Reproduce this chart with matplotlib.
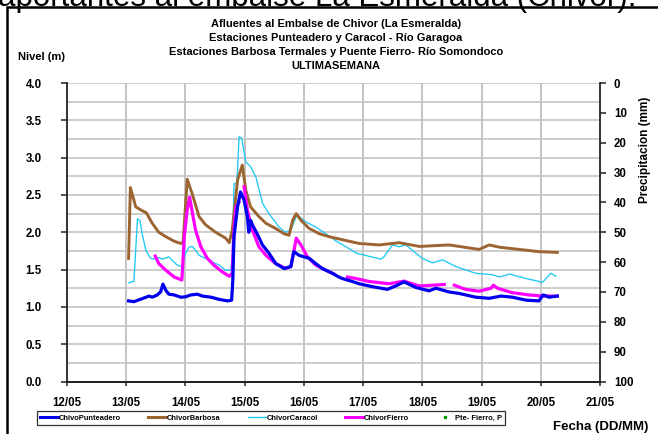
import numpy as np
import matplotlib
matplotlib.use("Agg")
import matplotlib.pyplot as plt
from matplotlib.patches import Rectangle
from matplotlib.lines import Line2D

plt.rcParams['font.family'] = ['Liberation Sans', 'DejaVu Sans']

# ---- data (time in days of May, levels in metres) ----
t_punteadero = [13.04, 13.13, 13.27, 13.385, 13.44, 13.525, 13.58, 13.62, 13.67, 13.72,
                13.81, 13.92, 14.005, 14.09, 14.20, 14.285, 14.43, 14.57, 14.71, 14.78,
                14.80, 14.82, 14.88, 14.93, 14.99, 15.045, 15.07, 15.10, 15.13, 15.21,
                15.30, 15.41, 15.525, 15.665, 15.78, 15.83, 15.92, 16.09, 16.20, 16.31,
                16.48, 16.59, 16.65, 16.82, 16.93, 17.16, 17.41, 17.55, 17.69, 17.89,
                18.115, 18.23, 18.45, 18.62, 18.90, 19.13, 19.33, 19.52, 19.75, 19.97,
                20.04, 20.14, 20.28]
v_punteadero = [1.08, 1.07, 1.11, 1.145, 1.13, 1.16, 1.20, 1.305, 1.22, 1.17,
                1.16, 1.13, 1.135, 1.16, 1.17, 1.145, 1.13, 1.10, 1.08, 1.09,
                1.36, 1.94, 2.34, 2.54, 2.43, 2.21, 2.00, 2.16, 2.10, 1.98,
                1.83, 1.72, 1.58, 1.515, 1.54, 1.74, 1.69, 1.65, 1.58, 1.515,
                1.45, 1.40, 1.38, 1.34, 1.31, 1.27, 1.235, 1.28, 1.335, 1.26,
                1.215, 1.25, 1.20, 1.18, 1.13, 1.115, 1.145, 1.13, 1.09, 1.08,
                1.16, 1.13, 1.145]

t_barbosa = [13.04, 13.07, 13.16, 13.245, 13.34, 13.44, 13.55, 13.67, 13.81, 13.92,
             13.96, 14.03, 14.12, 14.23, 14.34, 14.51, 14.68, 14.74, 14.79, 14.88,
             14.96, 15.02, 15.10, 15.24, 15.36, 15.525, 15.665, 15.75, 15.81, 15.87,
             15.95, 16.09, 16.26, 16.43, 16.65, 16.93, 17.27, 17.61, 17.95, 18.45,
             18.96, 19.13, 19.30, 19.635, 19.97, 20.28]
v_barbosa = [1.65, 2.60, 2.34, 2.30, 2.26, 2.12, 2.00, 1.94, 1.88, 1.85,
             1.86, 2.71, 2.50, 2.21, 2.10, 2.00, 1.92, 1.86, 2.03, 2.70,
             2.90, 2.56, 2.34, 2.21, 2.12, 2.05, 1.98, 1.96, 2.16, 2.25,
             2.16, 2.05, 1.98, 1.94, 1.90, 1.85, 1.83, 1.86, 1.81, 1.83,
             1.77, 1.83, 1.80, 1.77, 1.74, 1.73]

t_caracol = [13.04, 13.10, 13.13, 13.19, 13.23, 13.27, 13.33, 13.41, 13.50, 13.55,
             13.61, 13.72, 13.78, 13.86, 13.94, 14.005, 14.06, 14.12, 14.17, 14.23,
             14.34, 14.455, 14.57, 14.68, 14.765, 14.79, 14.82, 14.86, 14.88, 14.905,
             14.95, 15.02, 15.10, 15.19, 15.30, 15.41, 15.58, 15.69, 15.78, 15.87,
             15.92, 16.03, 16.20, 16.37, 16.54, 16.71, 16.90, 17.30, 17.35, 17.495,
             17.61, 17.72, 17.83, 18.00, 18.17, 18.34, 18.57, 18.90, 19.19, 19.30,
             19.47, 19.75, 20.03, 20.17, 20.255]
v_caracol = [1.32, 1.34, 1.34, 2.18, 2.16, 1.98, 1.76, 1.65, 1.64, 1.66,
             1.64, 1.67, 1.62, 1.56, 1.54, 1.72, 1.80, 1.81, 1.76, 1.69,
             1.65, 1.60, 1.56, 1.49, 1.49, 1.67, 2.65, 2.65, 2.83, 3.28,
             3.26, 2.94, 2.88, 2.74, 2.39, 2.25, 2.07, 2.00, 2.03, 2.21,
             2.21, 2.14, 2.07, 1.98, 1.885, 1.805, 1.716, 1.64, 1.67, 1.83,
             1.805, 1.83, 1.76, 1.65, 1.59, 1.63, 1.54, 1.45, 1.43, 1.40,
             1.44, 1.38, 1.33, 1.45, 1.41]

t_fierro = [13.49, 13.55, 13.67, 13.81, 13.94, 13.98, 14.03, 14.07, 14.12, 14.17,
            14.26, 14.37, 14.48, 14.62, 14.74, 14.79, 14.82, 14.85, 14.905, 14.95,
            14.99, 15.045, 15.13, 15.24, 15.36, 15.525, 15.69, 15.78, 15.83, 15.87,
            15.95, 16.06, 16.20, 16.37, 16.51, 16.62, 16.735, 16.88, 17.10, 17.44,
            17.69, 17.95, 18.17, 18.37, 18.45, 18.54, 18.73, 18.96, 19.16, 19.20,
            19.27, 19.52, 19.80, 20.03, 20.28]
v_fierro = [1.68, 1.58, 1.49, 1.40, 1.36, 1.94, 2.30, 2.47, 2.25, 2.03,
            1.805, 1.65, 1.56, 1.47, 1.41, 1.45, 2.03, 2.34, 2.40, np.nan,
            2.61, 2.30, 2.03, 1.805, 1.69, 1.58, 1.515, 1.54, 1.74, 1.92,
            1.83, 1.67, 1.56, 1.49, 1.44, np.nan, 1.40, 1.38, 1.34, 1.31,
            1.345, 1.28, 1.29, 1.30, np.nan, 1.29, 1.235, 1.21, 1.25, 1.29,
            1.25, 1.19, 1.16, 1.145, 1.145]

# precipitation at Puente Fierro (mm) - no readings in the period
t_precip = []
v_precip = []

date_ticks = [12, 13, 14, 15, 16, 17, 18, 19, 20, 21]
date_labels = ["12/05", "13/05", "14/05", "15/05", "16/05",
               "17/05", "18/05", "19/05", "20/05", "21/05"]

title_lines = ["Afluentes al Embalse de Chivor (La Esmeralda)",
               "Estaciones Punteadero y Caracol - Río Garagoa",
               "Estaciones Barbosa Termales y Puente Fierro- Río Somondoco",
               "ULTIMASEMANA"]

W, H = 658, 434
fig = plt.figure(figsize=(W / 100, H / 100), dpi=100)

def fx(px):
    return px / W

def fy(py):
    return 1 - py / H

left, right, top, bottom = 67, 600, 83, 381.5
ax = fig.add_axes([fx(left), fy(bottom), fx(right - left), (bottom - top) / H])
ax2 = ax.twinx()

# grid
for yv in np.arange(0.25, 4.01, 0.25):
    ax.axhline(yv, color='#c0c0c0', lw=1.1, zorder=0)
for xv in date_ticks[1:-1]:
    ax.axvline(xv, color='#c4c4c4', lw=1.4, zorder=0)

c_blue, c_brown, c_cyan, c_mag = '#0000ee', '#9b6430', '#1ec8f5', '#ff00ff'
ax.plot(t_punteadero, v_punteadero, color=c_blue, lw=2.3, zorder=5, solid_joinstyle='round')
ax.plot(t_barbosa, v_barbosa, color=c_brown, lw=2.1, zorder=3, solid_joinstyle='round')
ax.plot(t_caracol, v_caracol, color=c_cyan, lw=0.95, zorder=2)
ax.plot(t_fierro, v_fierro, color=c_mag, lw=2.3, zorder=4, solid_joinstyle='round')
ax2.plot(t_precip, v_precip, ls='none', marker='s', ms=2, color='#00a000')

ax.set_xlim(12, 21)
ax.set_ylim(0, 4.0)
ax2.set_ylim(100, 0)

ax.set_xticks(date_ticks)
ax.set_xticklabels(date_labels)
ax.set_yticks(np.arange(0, 4.01, 0.5))
ax.set_yticklabels([f"{v:.1f}" for v in np.arange(0, 4.01, 0.5)])
ax2.set_yticks(np.arange(0, 101, 10))

for a in (ax, ax2):
    for s in a.spines.values():
        s.set_color('#222222')
        s.set_linewidth(1.3)
    a.spines['top'].set_visible(False)
ax2.spines['left'].set_visible(False)
ax.spines['right'].set_visible(False)

ax.tick_params(axis='y', direction='out', length=4, width=1.1, pad=14,
               labelsize=8.3, color='#222222')
ax.tick_params(axis='x', direction='out', length=3, width=1.1, pad=8,
               labelsize=8.3, color='#222222')
ax2.tick_params(axis='y', direction='out', length=4, width=1.1, pad=6,
                labelsize=8.3, color='#222222')
for lab in ax.get_xticklabels() + ax.get_yticklabels() + ax2.get_yticklabels():
    lab.set_fontweight('bold')

# titles and axis captions
for i, line in enumerate(title_lines):
    fig.text(fx(336), fy(24 + 14 * i), line, ha='center', va='center',
             fontsize=8, fontweight='bold')
fig.text(fx(18), fy(57), "Nivel (m)", ha='left', va='center',
         fontsize=8, fontweight='bold')
fig.text(fx(645), fy(150), "Precipitacion (mm)", ha='center', va='center',
         rotation=90, fontsize=8.5, fontweight='bold')
fig.text(fx(648), fy(427), "Fecha (DD/MM)", ha='right', va='center',
         fontsize=9.5, fontweight='bold')

# heading text running above the chart frame
fig.text(fx(-2), fy(6.0), "aportantes al embalse La Esmeralda (Chivor).",
         ha='left', va='baseline', fontsize=22.5)

# chart frame
fig.add_artist(Rectangle((fx(7), -0.05), 1.0, fy(7.5) + 0.05,
                         transform=fig.transFigure, fill=False,
                         ec='black', lw=1.8))

# legend
handles = [Line2D([], [], color=c_blue, lw=2.2),
           Line2D([], [], color=c_brown, lw=2.2),
           Line2D([], [], color=c_cyan, lw=1.0),
           Line2D([], [], color=c_mag, lw=2.2),
           Line2D([], [], ls='none', marker='s', ms=2, color='#00a000')]
names = ["ChivoPunteadero", "ChivorBarbosa", "ChivorCaracol",
         "ChivorFierro", "Pte- Fierro, P"]
leg = fig.legend(handles, names, loc='center', ncol=5,
                 bbox_to_anchor=(fx(271), fy(418)),
                 fontsize=5.4, frameon=True, fancybox=False,
                 handlelength=2.4, handletextpad=0.1, columnspacing=3.6,
                 borderpad=0.45, edgecolor='black')
leg.get_frame().set_linewidth(0.9)
for txt in leg.get_texts():
    txt.set_fontweight('bold')

fig.savefig("out.png", dpi=100)
